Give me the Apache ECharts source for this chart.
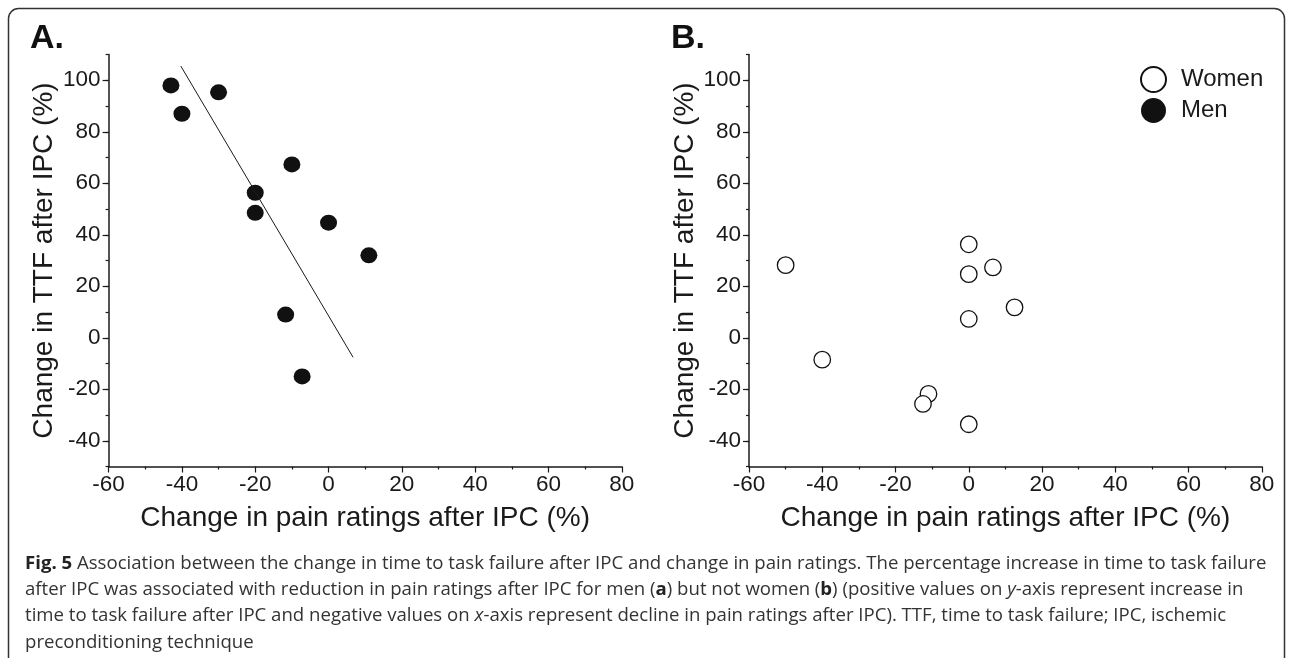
<!DOCTYPE html>
<html>
<head>
<meta charset="utf-8">
<script src="https://cdn.jsdelivr.net/npm/echarts@6/dist/echarts.min.js"></script>
<style>
  html, body { margin: 0; padding: 0; background: #fff; }
  #chart { width: 1290px; height: 658px; }
</style>
</head>
<body>
<div id="chart"></div>
<script>
// men (panel A)
const menPain = [-43, -40, -30, -10, -20, -20, 0, 11, -11.7, -7.2];
const menTTF = [98, 87, 95.3, 67.3, 56.3, 48.5, 44.7, 32, 9, -15];
// regression line ends, panel A
const fitPain = [-40.3, 6.7];
const fitTTF = [105.5, -7.6];
// women (panel B)
const womenPain = [-50, 0, 0, 6.6, 12.5, 0, -40, -11, -12.5, 0];
const womenTTF = [28.2, 36.3, 24.7, 27.3, 11.8, 7.3, -8.5, -21.8, -25.7, -33.6];

const xTicks = [-60, -40, -20, 0, 20, 40, 60, 80];
const yTicks = [-40, -20, 0, 20, 40, 60, 80, 100];

const xTitle = 'Change in pain ratings after IPC (%)';
const yTitle = 'Change in TTF after IPC (%)';

const captionLines = [
  '{b|Fig. 5} Association between the change in time to task failure after IPC and change in pain ratings. The percentage increase in time to task failure',
  'after IPC was associated with reduction in pain ratings after IPC for men ({b|a}) but not women ({b|b}) (positive values on {i|y}-axis represent increase in',
  'time to task failure after IPC and negative values on {i|x}-axis represent decline in pain ratings after IPC). TTF, time to task failure; IPC, ischemic',
  'preconditioning technique'
];

const ink = '#1a1a1a';
const axisFont = 'Liberation Sans, Arial, sans-serif';
const capFont = 'Open Sans, sans-serif';
const capSize = 18.6;

const chart = echarts.init(document.getElementById('chart'), null, { renderer: 'canvas' });

function zip(a, b) { return a.map((v, i) => [v, b[i]]); }

function xAxisFor(gi) {
  return {
    gridIndex: gi, type: 'value', min: -60, max: 80, interval: 20,
    name: xTitle, nameLocation: 'middle', nameGap: 38,
    nameTextStyle: { fontFamily: axisFont, fontSize: 28, color: ink },
    axisLine: { onZero: false, lineStyle: { color: ink, width: 1.5 } },
    axisTick: { length: 6, lineStyle: { color: ink, width: 1.2 } },
    minorTick: { show: true, splitNumber: 2, length: 3, lineStyle: { color: ink, width: 1.2 } },
    axisLabel: { fontFamily: axisFont, fontSize: 22.5, color: ink, margin: 7,
      customValues: xTicks },
    splitLine: { show: false }
  };
}

function yAxesFor(gi) {
  return [{
    gridIndex: gi, type: 'value', min: -50, max: 110, interval: 10,
    name: yTitle, nameLocation: 'middle', nameGap: 50,
    nameTextStyle: { fontFamily: axisFont, fontSize: 28, color: ink },
    axisLine: { onZero: false, lineStyle: { color: ink, width: 1.5 } },
    axisTick: { length: 3, lineStyle: { color: ink, width: 1.2 } },
    axisLabel: { show: false },
    splitLine: { show: false }
  }, {
    gridIndex: gi, type: 'value', min: -50, max: 110, position: 'left',
    axisLine: { show: false, onZero: false },
    axisTick: { length: 6, customValues: yTicks, lineStyle: { color: ink, width: 1.2 } },
    axisLabel: { fontFamily: axisFont, fontSize: 22.5, color: ink, margin: 8,
      customValues: yTicks },
    splitLine: { show: false }
  }];
}

const captionGraphics = captionLines.map((t, i) => ({
  type: 'text', left: 25, top: 554 + i * 26.3,
  style: {
    text: t, fill: '#333', font: capSize + 'px ' + capFont,
    rich: {
      b: { fontFamily: capFont, fontSize: capSize, fontWeight: 'bold', fill: '#222' },
      i: { fontFamily: capFont, fontSize: capSize, fontStyle: 'italic', fill: '#333' }
    }
  }
}));

chart.setOption({
  backgroundColor: '#fff',
  animation: false,
  grid: [
    { left: 108.6, top: 54.5, width: 513.2, height: 412, containLabel: false },
    { left: 749, top: 54.5, width: 512.8, height: 412, containLabel: false }
  ],
  xAxis: [xAxisFor(0), xAxisFor(1)],
  yAxis: yAxesFor(0).concat(yAxesFor(1)),
  legend: {
    orient: 'vertical', left: 1135, top: 61, itemWidth: 25, itemHeight: 25, itemGap: 5,
    icon: 'circle', data: ['Women', 'Men'],
    textStyle: { fontFamily: axisFont, fontSize: 24, color: ink, padding: [0, 0, 0, 10] }
  },
  series: [
    {
      name: 'Men', type: 'scatter', xAxisIndex: 0, yAxisIndex: 0,
      data: zip(menPain, menTTF), symbol: 'circle', symbolSize: [17, 16],
      itemStyle: { color: '#111', borderColor: '#111', borderWidth: 0, opacity: 1 }
    },
    {
      name: 'fit', type: 'line', xAxisIndex: 0, yAxisIndex: 0,
      data: zip(fitPain, fitTTF), showSymbol: false, symbol: 'none',
      lineStyle: { color: ink, width: 1 }
    },
    {
      name: 'Women', type: 'scatter', xAxisIndex: 1, yAxisIndex: 2,
      data: zip(womenPain, womenTTF), symbol: 'circle', symbolSize: [16.5, 16.5],
      itemStyle: { color: '#fff', borderColor: '#111', borderWidth: 1.3, opacity: 1 }
    }
  ],
  graphic: [
    {
      type: 'rect', silent: true,
      shape: { x: 8.5, y: 8.5, width: 1276, height: 700, r: 10 },
      style: { fill: 'none', stroke: '#333', lineWidth: 1.5 }
    },
    {
      type: 'text', left: 30, top: 22,
      style: { text: 'A.', font: 'bold 34px ' + axisFont, fill: '#111' }
    },
    {
      type: 'text', left: 671, top: 22,
      style: { text: 'B.', font: 'bold 34px ' + axisFont, fill: '#111' }
    }
  ].concat(captionGraphics)
});
</script>
</body>
</html>
